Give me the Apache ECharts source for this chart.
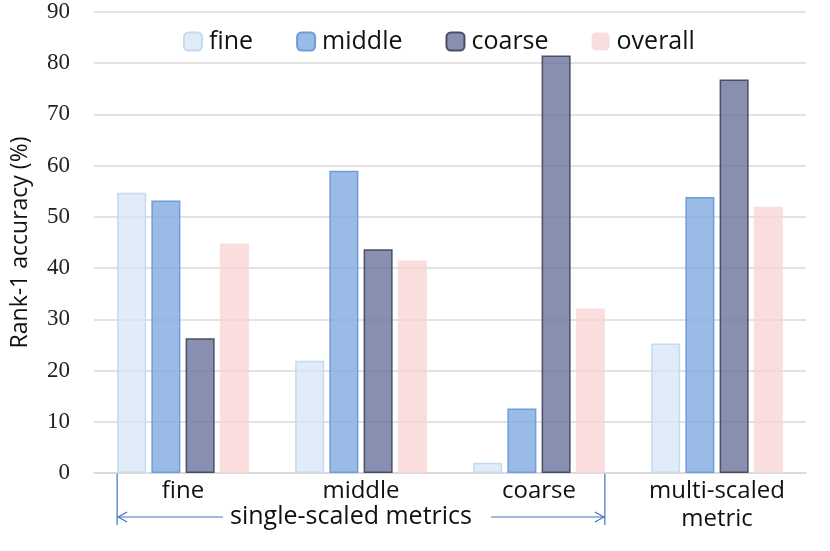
<!DOCTYPE html>
<html>
<head>
<meta charset="utf-8">
<script src="https://cdn.jsdelivr.net/npm/echarts@6/dist/echarts.min.js"></script>
<style>
  html, body { margin: 0; padding: 0; background: #fff; }
  #main { width: 830px; height: 551px; }
</style>
</head>
<body>
<div id="main"></div>
<script>
// data
var categories = ['fine', 'middle', 'coarse', 'multi-scaled\nmetric'];
var fineVals = [54.7, 21.9, 2.0, 25.3];
var middleVals = [53.2, 59.0, 12.6, 53.9];
var coarseVals = [26.3, 43.7, 81.5, 76.8];
var overallVals = [44.8, 41.5, 32.1, 52.0];
var yTicks = [0, 90, 10]; // min, max, interval

var sansFont = '"Open Sans", "Noto Sans", sans-serif';
var serifFont = '"Liberation Serif", "DejaVu Serif", serif';

var chart = echarts.init(document.getElementById('main'));

function barSeries(name, data, fill, border) {
    return {
        name: name,
        type: 'bar',
        data: data,
        barGap: '18%',
        barCategoryGap: '26%',
        itemStyle: {
            color: fill,
            borderColor: border,
            borderWidth: border ? 1.5 : 0
        }
    };
}

var option = {
    animation: false,
    backgroundColor: '#fff',
    grid: { left: 94, right: 24, top: 12, bottom: 78 },
    legend: {
        left: 178,
        top: 24,
        itemWidth: 18,
        itemHeight: 18,
        itemGap: 43,
        textStyle: { fontFamily: sansFont, fontSize: 25, color: '#111', padding: [0, 0, 0, 2] }
    },
    xAxis: {
        type: 'category',
        data: categories,
        axisLine: { show: true, lineStyle: { color: '#d9d9d9', width: 1.5 } },
        axisTick: { show: false },
        axisLabel: {
            margin: 4,
            fontFamily: sansFont,
            fontSize: 24,
            lineHeight: 28,
            color: '#111'
        }
    },
    yAxis: {
        type: 'value',
        min: yTicks[0],
        max: yTicks[1],
        interval: yTicks[2],
        name: 'Rank-1 accuracy (%)',
        nameLocation: 'middle',
        nameGap: 62,
        nameTextStyle: { fontFamily: sansFont, fontSize: 23, color: '#111' },
        axisLine: { show: false },
        axisTick: { show: false },
        splitLine: { lineStyle: { color: '#d9d9d9', width: 1.5 } },
        axisLabel: { margin: 24, fontFamily: serifFont, fontSize: 23, color: '#222' }
    },
    series: [
        barSeries('fine', fineVals, 'rgba(214,229,245,0.75)', '#c6daf0'),
        barSeries('middle', middleVals, 'rgba(130,172,224,0.82)', '#6f9ddb'),
        barSeries('coarse', coarseVals, 'rgba(110,118,160,0.82)', '#4a4f66'),
        barSeries('overall', overallVals, 'rgba(249,214,214,0.8)', null)
    ]
};
chart.setOption(option);

// bracket under the three single-scaled groups, placed from the axis scale
var c0 = chart.convertToPixel({ xAxisIndex: 0 }, categories[0]);
var c1 = chart.convertToPixel({ xAxisIndex: 0 }, categories[1]);
var c2 = chart.convertToPixel({ xAxisIndex: 0 }, categories[2]);
var band = c1 - c0;
var half = band * (1 - 0.26) / 2;
var x0 = c0 - half, x1 = c2 + half;
var yBase = chart.convertToPixel({ yAxisIndex: 0 }, 0);
var yArr = yBase + 44;
var midX = (x0 + x1) / 2;
var lineCol = '#4472c4';

chart.setOption({
    graphic: [
        { type: 'line', shape: { x1: x0, y1: yBase, x2: x0, y2: yArr + 8 }, style: { stroke: lineCol, lineWidth: 1.2 } },
        { type: 'line', shape: { x1: x1, y1: yBase, x2: x1, y2: yArr + 8 }, style: { stroke: lineCol, lineWidth: 1.2 } },
        { type: 'line', shape: { x1: x0, y1: yArr, x2: midX - 138, y2: yArr }, style: { stroke: lineCol, lineWidth: 1.2 } },
        { type: 'line', shape: { x1: midX + 130, y1: yArr, x2: x1, y2: yArr }, style: { stroke: lineCol, lineWidth: 1.2 } },
        { type: 'polyline', shape: { points: [[x0 + 10, yArr - 5], [x0 + 1, yArr], [x0 + 10, yArr + 5]] }, style: { stroke: lineCol, lineWidth: 1.2, fill: null } },
        { type: 'polyline', shape: { points: [[x1 - 10, yArr - 5], [x1 - 1, yArr], [x1 - 10, yArr + 5]] }, style: { stroke: lineCol, lineWidth: 1.2, fill: null } },
        {
            type: 'text',
            x: midX - 10,
            y: yArr,
            style: {
                text: 'single-scaled metrics',
                fontFamily: sansFont,
                fontSize: 25,
                fill: '#111',
                align: 'center',
                verticalAlign: 'middle'
            }
        }
    ]
});
</script>
</body>
</html>
